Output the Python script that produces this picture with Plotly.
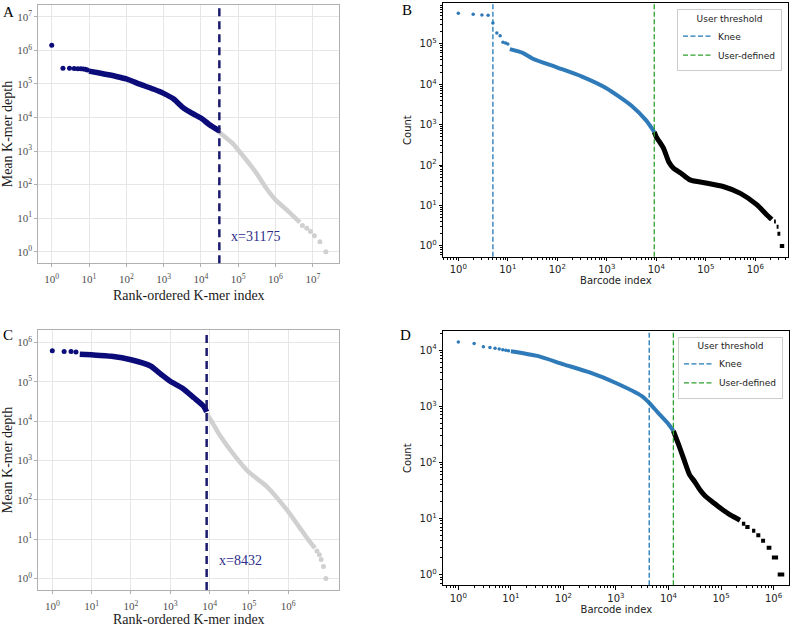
import plotly.graph_objects as go

# ---------------- Panel A (K-mer, sample 1) ----------------
a_head_x = [1, 2, 3, 4, 5, 6, 7, 8, 9]
a_head_y = [1.4e6, 2.9e5, 2.9e5, 2.85e5, 2.8e5, 2.8e5, 2.75e5, 2.7e5, 2.6e5]
a_body_x = [10, 19, 54, 100, 229, 525, 1000, 1820, 3240, 6030, 10000, 16600, 31175]
a_body_y = [2.4e5, 2.1e5, 1.66e5, 1.4e5, 9.8e4, 7.0e4, 5.2e4, 3.6e4, 2.0e4, 1.3e4, 9.6e3, 6.2e3, 4.0e3]
a_tail_x = [31175, 7.4e4, 1e5, 2.45e5, 3.16e5, 5.6e5, 1e6, 2.2e6, 4.5e6]
a_tail_y = [3.6e3, 1.6e3, 1.07e3, 310, 209, 79, 35, 16, 7.5]
a_end_x = [5.25e6, 6.9e6, 8.7e6, 1.1e7, 1.55e7, 2.24e7]
a_end_y = [6, 5, 4, 3, 2, 1]
a_threshold = 31175
a_x_exp = [0, 1, 2, 3, 4, 5, 6, 7]
a_y_exp = [0, 1, 2, 3, 4, 5, 6, 7]

# ---------------- Panel C (K-mer, sample 2) ----------------
c_head_x = [1, 2, 3, 4]
c_head_y = [6.1e5, 5.8e5, 5.8e5, 5.7e5]
c_body_x = [5, 10, 32, 100, 316, 600, 1000, 2000, 4000, 7000, 8432]
c_body_y = [5.0e5, 4.8e5, 4.4e5, 3.6e5, 2.5e5, 1.5e5, 1.02e5, 6.9e4, 3.9e4, 2.4e4, 1.7e4]
c_tail_x = [8432, 1e4, 1.86e4, 4e4, 1e5, 2.95e5, 1e6, 2e6, 3.5e6, 4.8e6]
c_tail_y = [1.5e4, 1.2e4, 4.2e3, 1.47e3, 500, 210, 50, 19, 8.7, 5.9]
c_end_x = [5.4e6, 6.2e6, 6.9e6, 7.9e6, 9.1e6]
c_end_y = [5, 4, 3, 2, 1]
c_threshold = 8432
c_x_exp = [0, 1, 2, 3, 4, 5, 6]
c_y_exp = [0, 1, 2, 3, 4, 5, 6]

# ---------------- Panel B (barcodes, sample 1) ----------------
b_head_x = [1, 2, 3, 4, 5, 6, 7, 8, 9, 10]
b_head_y = [5.7e5, 5.4e5, 5.2e5, 5.1e5, 3.3e5, 1.86e5, 1.6e5, 1.1e5, 1.05e5, 1.0e5]
b_body_x = [11, 20, 32, 100, 316, 1000, 3160, 6300, 9100]
b_body_y = [7.4e4, 6.0e4, 4.3e4, 2.6e4, 1.55e4, 7.9e3, 2.95e3, 1.26e3, 660]
b_tail_x = [9100, 1e4, 1.41e4, 1.78e4, 2.24e4, 3.16e4, 4.8e4, 1e5, 2.24e5, 5e5, 1.07e6, 1.7e6, 2.15e6]
b_tail_y = [660, 500, 257, 121, 83, 63, 43, 36, 29.5, 20, 10.5, 5.9, 4.5]
b_step_count = [4, 3, 2, 1]
b_step_start = [2.4e6, 2.7e6, 2.8e6, 3.13e6]
b_step_end = [2.6e6, 2.95e6, 3.2e6, 3.84e6]
b_knee = 5
b_user = 9100
b_x_exp = [0, 1, 2, 3, 4, 5, 6]
b_y_exp = [0, 1, 2, 3, 4, 5]

# ---------------- Panel D (barcodes, sample 2) ----------------
d_head_x = [1, 2, 3, 4, 5, 6, 7, 8, 9]
d_head_y = [1.4e4, 1.32e4, 1.15e4, 1.12e4, 1.08e4, 1.05e4, 1.02e4, 1.0e4, 9.8e3]
d_body_x = [10, 32, 100, 316, 1000, 3160, 4300, 6300, 1e4, 1.24e4]
d_body_y = [9.6e3, 7.9e3, 5.6e3, 4.0e3, 2.6e3, 1.5e3, 1.15e3, 770, 480, 365]
d_tail_x = [1.24e4, 1.58e4, 2e4, 2.5e4, 3.16e4, 4e4, 5e4, 7.2e4, 1e5, 1.5e5, 2.3e5]
d_tail_y = [365, 200, 108, 61, 45, 32, 25, 19, 15, 11.5, 9.3]
d_step_count = [8, 7, 6, 5, 4, 3, 2, 1]
d_step_start = [2.5e5, 2.9e5, 3.9e5, 4.7e5, 5.8e5, 7.4e5, 9.3e5, 1.2e6]
d_step_end = [2.9e5, 3.5e5, 4.5e5, 5.6e5, 6.9e5, 9.1e5, 1.22e6, 1.6e6]
d_knee = 4300
d_user = 12400
d_x_exp = [0, 1, 2, 3, 4, 5, 6]
d_y_exp = [0, 1, 2, 3, 4]

W, H = 792, 627
SERIF = "Liberation Serif"
SANS = "DejaVu Sans"
NAVY = "#0b0b7a"
GREY = "#d0d0d0"
BLUE = "#2f7ab8"
GREEN = "#2ca02c"


def steps(counts, starts, ends):
    xs, ys = [], []
    for c, s, e in zip(counts, starts, ends):
        xs += [s, e, None]
        ys += [c, c, None]
    return xs, ys


def pow_ticks(exps):
    return [10 ** e for e in exps], ["10<sup>%d</sup>" % e for e in exps]


def minor_vals(lo, hi):
    return [m * 10 ** k for k in range(lo, hi) for m in range(2, 10)]


def band(x, y, color, width, xa, ya):
    return go.Scatter(x=x, y=y, mode="lines",
                      line=dict(color=color, width=width, shape="spline", smoothing=0.6),
                      xaxis=xa, yaxis=ya, showlegend=False, hoverinfo="skip")


def dots(x, y, color, size, xa, ya):
    return go.Scatter(x=x, y=y, mode="markers", marker=dict(color=color, size=size),
                      xaxis=xa, yaxis=ya, showlegend=False)


fig = go.Figure()

# ---- panel A traces
fig.add_trace(band(a_body_x, a_body_y, NAVY, 5.5, "x", "y"))
fig.add_trace(dots(a_head_x, a_head_y, NAVY, 5, "x", "y"))
fig.add_trace(band(a_tail_x, a_tail_y, GREY, 4.5, "x", "y"))
fig.add_trace(dots(a_end_x, a_end_y, GREY, 5, "x", "y"))

# ---- panel C traces
fig.add_trace(band(c_body_x, c_body_y, NAVY, 5.5, "x3", "y3"))
fig.add_trace(dots(c_head_x, c_head_y, NAVY, 5, "x3", "y3"))
fig.add_trace(band(c_tail_x, c_tail_y, GREY, 4.5, "x3", "y3"))
fig.add_trace(dots(c_end_x, c_end_y, GREY, 5, "x3", "y3"))

# ---- panel B traces
fig.add_trace(dots(b_head_x, b_head_y, BLUE, 3.5, "x2", "y2"))
fig.add_trace(band(b_body_x, b_body_y, BLUE, 4, "x2", "y2"))
fig.add_trace(band(b_tail_x, b_tail_y, "black", 5, "x2", "y2"))
bsx, bsy = steps(b_step_count, b_step_start, b_step_end)
fig.add_trace(go.Scatter(x=bsx, y=bsy, mode="lines", line=dict(color="black", width=4),
                         xaxis="x2", yaxis="y2", showlegend=False))

# ---- panel D traces
fig.add_trace(dots(d_head_x, d_head_y, BLUE, 3.5, "x4", "y4"))
fig.add_trace(band(d_body_x, d_body_y, BLUE, 4, "x4", "y4"))
fig.add_trace(band(d_tail_x, d_tail_y, "black", 5, "x4", "y4"))
dsx, dsy = steps(d_step_count, d_step_start, d_step_end)
fig.add_trace(go.Scatter(x=dsx, y=dsy, mode="lines", line=dict(color="black", width=4),
                         xaxis="x4", yaxis="y4", showlegend=False))

# ---- threshold lines
fig.add_shape(type="line", xref="x", yref="y domain", x0=a_threshold, x1=a_threshold, y0=0, y1=1,
              line=dict(color="#1a1a6e", width=2.5, dash="8px,5px"))
fig.add_shape(type="line", xref="x3", yref="y3 domain", x0=c_threshold, x1=c_threshold, y0=0, y1=1,
              line=dict(color="#1a1a6e", width=2.5, dash="8px,5px"))
for xr, knee, user, lg in (("x2", b_knee, b_user, "legend"), ("x4", d_knee, d_user, "legend2")):
    yr = "y" + xr[1:] + " domain"
    fig.add_shape(type="line", xref=xr, yref=yr, x0=knee, x1=knee, y0=0, y1=1,
                  line=dict(color="#1f77b4", width=1.3, dash="5px,2.5px"),
                  name="Knee", showlegend=True, legend=lg)
    fig.add_shape(type="line", xref=xr, yref=yr, x0=user, x1=user, y0=0, y1=1,
                  line=dict(color=GREEN, width=1.3, dash="5px,2.5px"),
                  name="User-defined", showlegend=True, legend=lg)

# ---- annotations
fig.add_annotation(text="x=%d" % a_threshold, xref="paper", yref="paper", x=229 / W, y=1 - 239 / H,
                   xanchor="left", yanchor="middle", showarrow=False,
                   font=dict(family=SERIF, size=14, color="#2d2d8a"))
fig.add_annotation(text="x=%d" % c_threshold, xref="paper", yref="paper", x=217 / W, y=1 - 566 / H,
                   xanchor="left", yanchor="middle", showarrow=False,
                   font=dict(family=SERIF, size=14, color="#2d2d8a"))
for lab, px, py in (("A", 8, 12), ("B", 407, 10), ("C", 8, 338), ("D", 405, 338)):
    fig.add_annotation(text=lab, xref="paper", yref="paper", x=px / W, y=1 - py / H,
                       xanchor="center", yanchor="middle", showarrow=False,
                       font=dict(family=SERIF, size=15, color="black"))


def gg_axis(exps, rng, dom, title, anchor, standoff, lab_off=0):
    tv, tt = pow_ticks(exps)
    return dict(type="log", range=rng, domain=dom, anchor=anchor,
                tickmode="array", tickvals=tv, ticktext=tt,
                showgrid=True, gridcolor="#e6e6e6", gridwidth=1,
                showline=True, linecolor="#b0b0b0", linewidth=1, mirror=True,
                ticks="outside", ticklen=3, tickcolor="#b0b0b0", ticklabelstandoff=lab_off,
                tickfont=dict(family=SERIF, size=11, color="#4d4d4d"),
                title=dict(text=title, font=dict(family=SERIF, size=14, color="#1a1a1a"), standoff=standoff),
                zeroline=False)


def mpl_axis(exps, rng, dom, title, anchor, standoff, mlo, mhi):
    tv, tt = pow_ticks(exps)
    return dict(type="log", range=rng, domain=dom, anchor=anchor,
                tickmode="array", tickvals=tv, ticktext=tt,
                showgrid=False, showline=True, linecolor="black", linewidth=1, mirror=True,
                ticks="outside", ticklen=3.5, tickcolor="black",
                minor=dict(tickmode="array", tickvals=minor_vals(mlo, mhi), ticks="outside",
                           ticklen=2, tickcolor="black", showgrid=False),
                tickfont=dict(family=SANS, size=10, color="#222"),
                title=dict(text=title, font=dict(family=SANS, size=10, color="#222"), standoff=standoff),
                zeroline=False)


axA_x = [38.3 / W, 339.3 / W]
axA_y = [1 - 265.7 / H, 1 - 5 / H]
axB_x = [443.3 / W, 788.3 / W]
axB_y = [1 - 259.3 / H, 1 - 3.3 / H]
axC_x = [38.3 / W, 339.3 / W]
axC_y = [1 - 595.7 / H, 1 - 333.3 / H]
axD_x = [443.3 / W, 789.3 / W]
axD_y = [1 - 591 / H, 1 - 334.3 / H]

legend_common = dict(xanchor="right", yanchor="top", bgcolor="white", bordercolor="#cccccc", borderwidth=1,
                     font=dict(family=SANS, size=9, color="#222"), tracegroupgap=0,
                     title=dict(text="User threshold", side="top center",
                                font=dict(family=SANS, size=9, color="#222")))

fig.update_layout(
    width=W, height=H, margin=dict(l=0, r=0, t=0, b=0),
    paper_bgcolor="white", plot_bgcolor="white",
    xaxis=gg_axis(a_x_exp, [-0.36, 7.71], axA_x, "Rank-ordered K-mer index", "y", 5, 3),
    yaxis=gg_axis(a_y_exp, [-0.34, 7.35], axA_y, "Mean K-mer depth", "x", 6),
    xaxis3=gg_axis(c_x_exp, [-0.356, 7.30], axC_x, "Rank-ordered K-mer index", "y3", 5, 3),
    yaxis3=gg_axis(c_y_exp, [-0.295, 6.31], axC_y, "Mean K-mer depth", "x3", 6),
    xaxis2=mpl_axis(b_x_exp, [-0.303, 6.667], axB_x, "Barcode index", "y2", 2, -1, 7),
    yaxis2=mpl_axis(b_y_exp, [-0.27, 6.005], axB_y, "Count", "x2", 6, -1, 7),
    xaxis4=mpl_axis(d_x_exp, [-0.286, 6.30], axD_x, "Barcode index", "y4", 2, -1, 7),
    yaxis4=mpl_axis(d_y_exp, [-0.194, 4.34], axD_y, "Count", "x4", 6, -1, 5),
    legend=dict(x=782 / W, y=1 - 9 / H, **legend_common),
    legend2=dict(x=783 / W, y=1 - 340 / H, **legend_common),
)

fig.write_html("out.html", config={"displayModeBar": False},
               post_script="document.body.style.margin='0';document.body.style.overflow='hidden';")
